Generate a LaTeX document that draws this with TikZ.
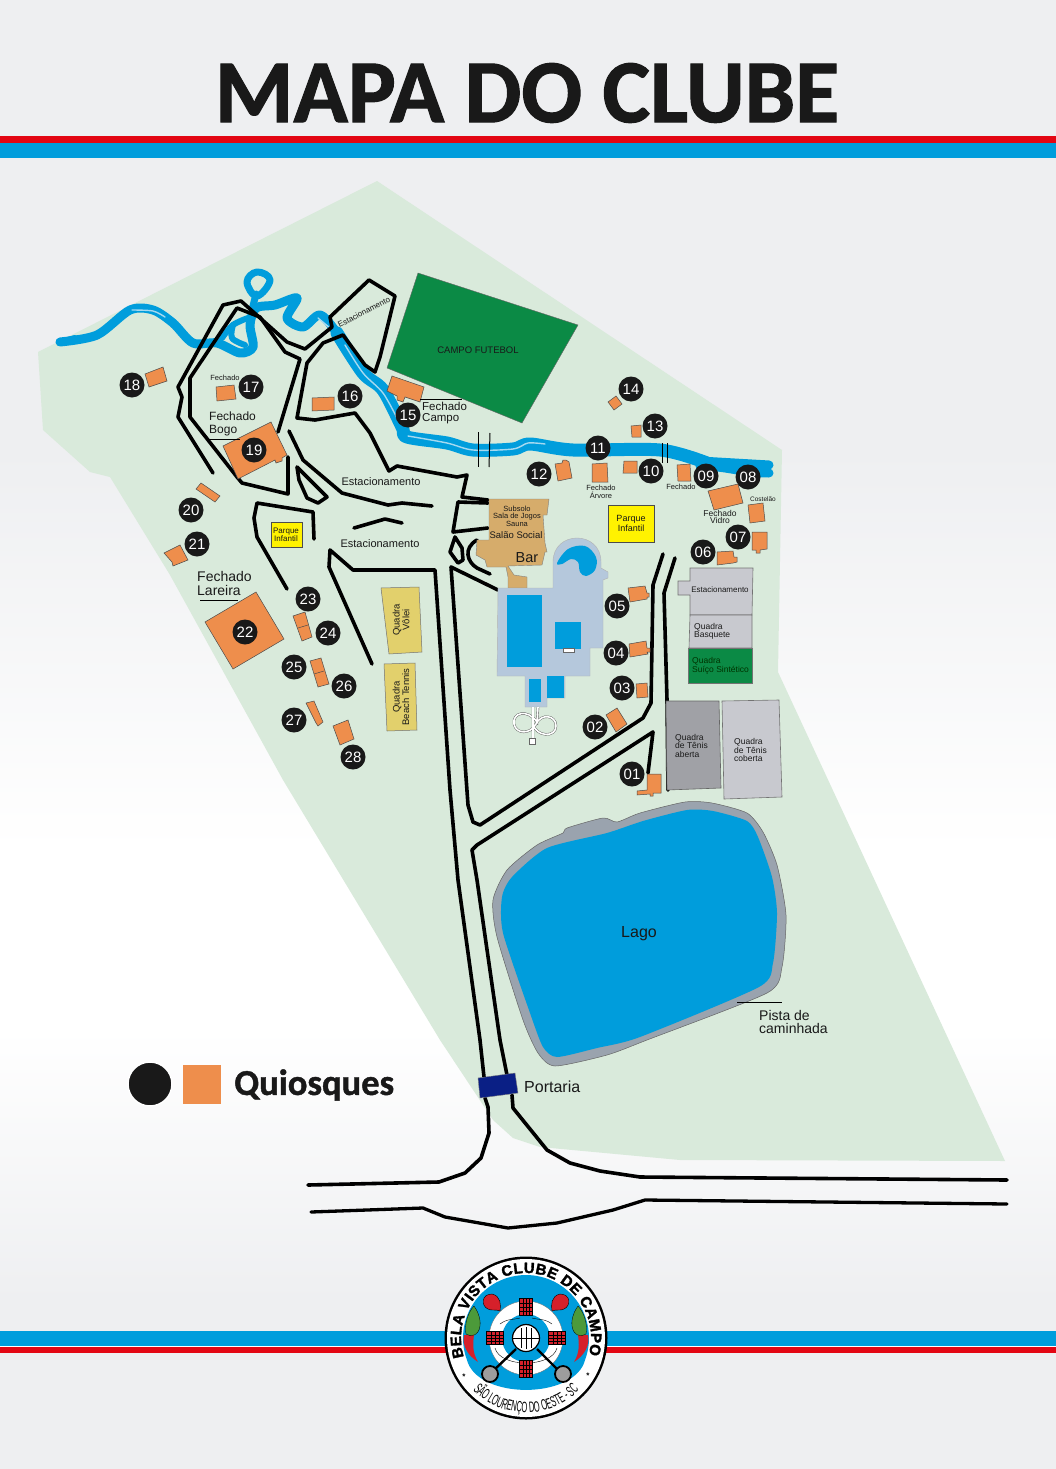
\documentclass[tikz,border=0pt]{standalone}
\usepackage{fontspec}
\usetikzlibrary{decorations.text}
\setmainfont{Liberation Sans}
\newfontfamily\titlefont[BoldFeatures={FakeBold=1.2}]{Carlito}
\newfontfamily\logofont[BoldFeatures={FakeBold=2}]{Liberation Sans}
\newfontfamily\narrowfont[FakeStretch=0.5]{Liberation Sans}
\newcommand\fs[1]{\fontsize{#1}{#1}\selectfont}
\definecolor{bggray}{HTML}{EEEFF1}
\definecolor{landgreen}{HTML}{D9EADB}
\definecolor{riverblue}{HTML}{009DDC}
\definecolor{riverlight}{HTML}{A5D9F0}
\definecolor{barred}{HTML}{E30613}
\definecolor{kiosk}{HTML}{EE8E4C}
\definecolor{fieldgreen}{HTML}{0B8A45}
\definecolor{tan}{HTML}{D6AC6B}
\definecolor{deck}{HTML}{B5C8DC}
\definecolor{courtyellow}{HTML}{E2D06C}
\definecolor{courtgray}{HTML}{C8C9CF}
\definecolor{darkcourt}{HTML}{A0A1A6}
\definecolor{lakerim}{HTML}{9AA3AE}
\definecolor{gatenavy}{HTML}{0A1F85}
\definecolor{logored}{HTML}{D5202A}
\definecolor{treegreen}{HTML}{4C9A3A}
\tikzset{
  road/.style={draw=black,line width=3.6pt,line join=round,line cap=round},
  river/.style={draw=riverblue,line width=9pt,line join=round,line cap=round},
  riverwide/.style={draw=riverblue,line width=13pt,line join=round,line cap=round},
  riverthin/.style={draw=riverlight,line width=1.4pt,line cap=round},
  bldg/.style={fill=kiosk,draw=black!70,line width=0.5pt},
  num/.style={circle,fill=black!90,text=white,minimum size=25pt,inner sep=0pt,font=\fs{15}},
  lbl/.style={inner sep=0pt,align=center,text=black!90},
  lblL/.style={inner sep=0pt,align=left,text=black!90,anchor=west},
  yel/.style={fill=yellow,draw=black!70,line width=0.7pt},
  court/.style={fill=courtgray,draw=black!55,line width=0.6pt},
  leader/.style={draw=black,line width=1pt},
  pool/.style={fill=riverblue},
}
\begin{document}
\begin{tikzpicture}[x=1pt,y=-1pt]
\useasboundingbox (0,0) rectangle (1056,1469);
% background
\fill[bggray] (0,0) rectangle (1056,450);
\shade[top color=bggray,bottom color=white] (0,450) rectangle (1056,850);
\fill[white] (0,850) rectangle (1056,1030);
\shade[top color=white,bottom color=bggray] (0,1030) rectangle (1056,1300);
\fill[bggray] (0,1300) rectangle (1056,1469);
% title
\node[inner sep=0pt,text=black!90] (title) at (527,93) {\titlefont\bfseries\fs{90}MAPA DO CLUBE};
\fill[barred] (0,136) rectangle (1056,142.5);
\fill[riverblue] (0,142.5) rectangle (1056,157.5);
\fill[riverblue] (0,1331) rectangle (1056,1346);
\fill[white] (0,1346) rectangle (1056,1347);
\fill[barred] (0,1347) rectangle (1056,1353);
% land
\fill[landgreen] (38,352) -- (377,181) -- (782,450) -- (778,672) -- (1005,1161) -- (680,1160) -- (540,1147) -- (513,1138) -- (493,1120) -- (440,1040) -- (283,780) -- (170,575) -- (110,477) -- (90,472) -- (43,430) -- cycle;
% river
\draw[river] plot[smooth,tension=0.5] coordinates {(60,342) (97,335) (130,310) (153,310) (173,323) (193,343) (217,343) (240,353) (253,347) (250,325) (256,308) (275,305) (297,298) (287,318) (303,327) (320,315) (337,333) (363,373)};
\draw[river,line width=6pt] (60,342) -- (75,338);
\draw[riverwide] plot[smooth,tension=0.5] coordinates {(337,333) (363,373) (383,390) (402,427) (407,437) (447,443) (473,450) (513,449) (530,444) (573,450) (660,450) (707,463)};
\draw[river] (700,461) -- (769,465);
\draw[river] (700,466) to[out=0,in=180] (769,473);
\draw[river,line width=7pt] plot[smooth cycle,tension=0.7] coordinates {(247,282) (257,272) (270,280) (257,296)};
\draw[river,line width=7pt] (256,294) -- (252,310);
\draw[river,line width=6pt] plot[smooth,tension=0.6] coordinates {(222,338) (233,325) (248,318)};
\draw[river,line width=6pt] plot[smooth,tension=0.6] coordinates {(233,325) (232,338) (245,345)};
\draw[riverthin] plot[smooth,tension=0.5] coordinates {(345,345) (363,373) (383,393) (398,420)};
\draw[riverthin] plot[smooth,tension=0.5] coordinates {(408,436) (447,443) (473,450) (513,449) (528,443) (545,444)};
\draw[riverthin] plot[smooth,tension=0.5] coordinates {(132,310) (153,311) (165,317)};
\draw[riverthin] (318,318) -- (330,328);
% bridges
\draw[leader] (478,432) -- (478,467);
\draw[leader] (490,433) -- (489,467);
\draw[leader] (662,443) -- (662,463);
\draw[leader] (667,443) -- (667,463);
% roads
\draw[road] (213,473) -- (178,417) -- (182,397) -- (178,387) -- (223,305) -- (241,301) -- (287,342) -- (305,349) -- (332,327) -- (330,317) -- (369,280) -- (395,296) -- (380,357) -- (375,372) -- (365,365) -- (343,335) -- (323,343) -- (307,363) -- (297,418) -- (315,420) -- (355,413) -- (370,433) -- (389,471) -- (397,466) -- (457,477) -- (467,475) -- (462,497) -- (488,500);
\draw[road] (278,432) -- (300,359) -- (285,352) -- (260,317) -- (237,308) -- (190,378) -- (190,417) -- (237,477) -- (242,483) -- (288,494) -- (288,457);
\draw[road] (289,431) -- (303,460) -- (342,493) -- (388,505) -- (402,503) -- (432,506);
\draw[road] (297,467) -- (327,497) -- (318,503) -- (307,498) -- (299,480) -- cycle;
\draw[road] (354,528) -- (385,519) -- (402,523);
\draw[road] (314,539) -- (313,512) -- (257,503) -- (254,518) -- (257,537) -- (287,589);
\draw[road] (372,664) -- (329,567) -- (330,550) -- (353,570) -- (435,570) -- (450,790) -- (458,880) -- (480,1040) -- (484,1077);
\draw[road] (485,1098) -- (488,1107) -- (489,1133) -- (481,1158) -- (465,1173) -- (439,1182) -- (308,1185);
\draw[road] (498,590) -- (451,567) -- (468,805) -- (473,822) -- (480,825) -- (643,718) -- (651,703) -- (653,585) -- (663,554);
\draw[road] (648,773) -- (653,732) -- (477,845) -- (472,850) -- (477,880) -- (500,1040) -- (507,1075);
\draw[road] (675,558) -- (664,593) -- (667,700) -- (668,790);
\draw[road] (512,1095) -- (513,1108) -- (547,1150) -- (570,1163) -- (600,1171) -- (640,1177) -- (1007,1180);
\draw[road,line width=3.3pt] (311,1212) -- (423,1208) -- (445,1217) -- (508,1228) -- (557,1223) -- (613,1210) -- (645,1200) -- (1007,1204);
\draw[road] (488,528) -- (453,532) -- (458,502) -- (488,503);
\draw[road] (455,537) -- (450,552) -- (458,563) -- (463,560) -- (462,548) -- cycle;
\draw[road] (490,574) -- (477,568) .. controls (467,562) and (463,548) .. (477,540);
% football field
\fill[fieldgreen,draw=black!60,line width=0.4pt] (418,273) -- (578,325) -- (522,423) -- (387,368) -- cycle;
\node[lbl,font=\fs{9.5}] (campofut) at (478,350) {CAMPO FUTEBOL};
\node[lbl,font=\fs{8},rotate=27] (est1) at (364,312) {Estacionamento};
% lake
\fill[lakerim,draw=black!60,line width=0.5pt] plot[smooth cycle,tension=0.4] coordinates {(493,900) (507,870) (537,845) (563,833) (567,828) (603,818) (617,822) (640,813) (685,802) (712,803) (747,813) (763,832) (777,865) (786,915) (782,967) (767,993) (647,1040) (607,1055) (555,1066) (538,1053) (523,1020) (497,937)};
\fill[riverblue] plot[smooth cycle,tension=0.4] coordinates {(502,897) (512,877) (547,848) (607,833) (643,821) (687,810) (713,811) (747,821) (758,837) (772,877) (777,913) (773,963) (759,987) (640,1037) (597,1048) (557,1057) (543,1047) (530,1013) (503,933)};
\node[lbl,font=\fs{16}] (lago) at (639,934) {Lago};
\draw[leader] (737,1002) -- (782,1002);
\node[lblL,font=\fontsize{14}{12.5}\selectfont] (pista) at (759,1022) {Pista de\\caminhada};
% gate
\fill[gatenavy,draw=black!50,line width=0.4pt] (478,1078) -- (515,1073) -- (518,1093) -- (480,1098) -- cycle;
\node[lblL,font=\fs{16}] (portaria) at (524,1087) {Portaria};
% club house
\fill[tan,draw=black!50,line width=0.4pt] (489,499) -- (549,499) -- (547,515) -- (543,515) -- (545,543) -- (547,552) -- (545,552) -- (542,565) -- (508,566) -- (514,575) -- (527,577) -- (527,588) -- (508,588) -- (508,577) -- (506,567) -- (487,567) -- (485,560) -- (476,555) -- (477,540) -- (489,540) -- cycle;
\node[lbl,font=\fontsize{7.5}{6.7}\selectfont] (subsolo) at (517,516.5) {Subsolo\\Sala de Jogos\\Sauna};
\node[lbl,font=\fs{9.5}] (salao) at (516,535) {Salão Social};
\node[lbl,font=\fs{14.5}] (bar) at (527,558) {Bar};
% pool deck
\fill[deck,draw=black!30,line width=0.4pt] (498,588) -- (553,588) -- (553,562) .. controls (553,530) and (601,530) .. (601,562) -- (601,568) -- (608,572) -- (608,578) -- (603,580) -- (603,648) -- (590,648) -- (590,676) -- (565,676) -- (565,698) -- (547,698) -- (547,707) -- (525,707) -- (525,676) -- (497,676) -- cycle;
\fill[pool] (507,595) rectangle (542,667);
\fill[pool] (555,622) rectangle (581,649);
\fill[pool] (529,679) rectangle (541,702);
\fill[pool] (547,676) rectangle (564,698);
\fill[pool] plot[smooth cycle,tension=0.6] coordinates {(557,563) (568,549) (585,546) (596,557) (595,570) (586,576) (580,572) (578,562) (571,559) (562,564)};
\fill[white,draw=black!60,line width=0.3pt] (563,648) rectangle (574,652);
\draw[draw=black!65,double=white,double distance=1.6pt,line width=0.4pt] (533,707) -- (533,739) (538,707) -- (537,722) .. controls (527,708) and (512,713) .. (514,724) .. controls (516,734) and (530,735) .. (536,724) .. controls (541,713) and (556,715) .. (556,726) .. controls (556,738) and (536,737) .. (533,724);
\draw[fill=white,draw=black!60,line width=0.4pt] (529,738) rectangle (535,744);
% yellow infantil
\fill[yel] (608,505) rectangle (654,542);
\node[lbl,font=\fontsize{9}{8}\selectfont] (pi1) at (631,523.5) {Parque\\Infantil};
\fill[yel] (271,522) rectangle (302,547);
\node[lbl,font=\fontsize{8}{7.3}\selectfont] (pi2) at (286,535) {Parque\\Infantil};
% courts
\fill[courtyellow,draw=black!55,line width=0.5pt] (381,588) -- (419,587) -- (422,652) -- (389,654) -- cycle;
\node[lbl,font=\fontsize{9.5}{8.5}\selectfont,rotate=90] (volei) at (401,620) {Quadra\\Vôlei};
\fill[courtyellow,draw=black!55,line width=0.5pt] (384,664) -- (415,663) -- (417,730) -- (387,731) -- cycle;
\node[lbl,font=\fontsize{9.5}{8.5}\selectfont,rotate=90] (beach) at (401,697) {Quadra\\Beach Tennis};
\fill[court] (690,568) -- (753,568) -- (752,615) -- (690,615) -- (690,595) -- (678,595) -- (678,581) -- (690,581) -- cycle;
\node[lbl,font=\fs{8}] (est2) at (720,590) {Estacionamento};
\fill[court] (690,615) -- (752,615) -- (752,648) -- (689,648) -- cycle;
\node[lblL,font=\fontsize{8.5}{8}\selectfont] (basq) at (694,631) {Quadra\\Basquete};
\fill[fieldgreen,draw=black!55,line width=0.5pt] (688,648) -- (752,648) -- (752,683) -- (688,683) -- cycle;
\node[lblL,font=\fontsize{8.5}{8.5}\selectfont,text=black!80!green] (suico) at (692,666) {Quadra\\Suíço Sintético};
\fill[darkcourt,draw=black!60,line width=0.6pt] (666,701) -- (719,701) -- (721,788) -- (667,790) -- cycle;
\node[lblL,font=\fontsize{8.5}{8.5}\selectfont] (ten1) at (675,745.5) {Quadra\\de Tênis\\aberta};
\fill[court] (722,701) -- (779,700) -- (782,797) -- (724,799) -- cycle;
\node[lblL,font=\fontsize{8.5}{8.5}\selectfont] (ten2) at (734,750) {Quadra\\de Tênis\\coberta};
% kiosks
\draw[bldg] (145,374) -- (163,367) -- (167,381) -- (149,387) -- cycle;
\draw[bldg] (216,387) -- (234,385) -- (236,399) -- (217,401) -- cycle;
\draw[bldg] (312,398) -- (334,397) -- (334,410) -- (312,411) -- cycle;
\draw[bldg] (392,376) -- (424,387) -- (420,402) -- (405,397) -- (403,402) -- (397,400) -- (397,396) -- (387,391) -- cycle;
\draw[bldg] (223,446) -- (271,422) -- (287,455) -- (282,458) -- (282,461) -- (276,463) -- (275,460) -- (238,479) -- cycle;
\draw[bldg] (201,483) -- (220,496) -- (215,502) -- (196,489) -- cycle;
\draw[bldg] (164,553) -- (180,545) -- (188,560) -- (173,566) -- (172,562) -- cycle;
\draw[bldg] (205,622) -- (256,592) -- (284,639) -- (233,669) -- cycle;
\draw[bldg] (293,616) -- (305,612) -- (312,637) -- (302,641) -- cycle;
\draw[bldg] (298,628) -- (308,625);
\draw[bldg] (310,661) -- (321,658) -- (329,684) -- (318,687) -- cycle;
\draw[bldg] (314,674) -- (324,671);
\draw[bldg] (306,703) -- (314,701) -- (323,722) -- (318,726) -- (316,723) -- cycle;
\draw[bldg] (333,726) -- (348,720) -- (354,739) -- (340,745) -- cycle;
\draw[bldg] (628,588) -- (645,586) -- (647,593) -- (649,593) -- (649,597) -- (647,597) -- (647,599) -- (630,602) -- cycle;
\draw[bldg] (629,644) -- (646,641) -- (647,648) -- (650,648) -- (650,652) -- (647,652) -- (648,654) -- (630,657) -- cycle;
\draw[bldg] (636,684) -- (647,683) -- (648,697) -- (637,698) -- cycle;
\draw[bldg] (606,715) -- (617,708) -- (627,724) -- (616,732) -- cycle;
\draw[bldg] (647,774) -- (661,774) -- (661,793) -- (653,793) -- (653,796) -- (650,796) -- (650,794) -- (637,795) -- (637,791) -- (647,790) -- cycle;
\draw[bldg] (717,552) -- (733,551) -- (734,557) -- (737,557) -- (737,562) -- (733,563) -- (717,565) -- cycle;
\draw[bldg] (752,532) -- (767,532) -- (767,549) -- (760,550) -- (760,553) -- (756,553) -- (756,550) -- (752,550) -- cycle;
\draw[bldg] (748,505) -- (763,503) -- (765,521) -- (750,523) -- cycle;
\draw[bldg] (708,491) -- (738,484) -- (743,503) -- (714,510) -- cycle;
\draw[bldg] (677,465) -- (690,464) -- (691,481) -- (678,481) -- cycle;
\draw[bldg] (624,461) -- (637,461) -- (637,473) -- (623,473) -- cycle;
\draw[bldg] (592,464) -- (607,463) -- (608,482) -- (592,482) -- cycle;
\draw[bldg] (555,464) -- (562,463) -- (563,460) -- (566,460) -- (569,462) -- (572,478) -- (558,481) -- cycle;
\draw[bldg] (631,426) -- (641,425) -- (641,437) -- (632,437) -- cycle;
\draw[bldg] (608,402) -- (616,396) -- (622,404) -- (614,410) -- cycle;
% numbers
\node[num] (n01) at (632,774) {01};
\node[num] (n02) at (595,727) {02};
\node[num] (n03) at (622,688) {03};
\node[num] (n04) at (616,653) {04};
\node[num] (n05) at (617,606) {05};
\node[num] (n06) at (703,552) {06};
\node[num] (n07) at (738,537) {07};
\node[num] (n08) at (748,477) {08};
\node[num] (n09) at (706,476) {09};
\node[num] (n10) at (651,471) {10};
\node[num] (n11) at (598,448) {11};
\node[num] (n12) at (539,474) {12};
\node[num] (n13) at (655,426) {13};
\node[num] (n14) at (631,389) {14};
\node[num] (n15) at (408,415) {15};
\node[num] (n16) at (350,396) {16};
\node[num] (n17) at (251,387) {17};
\node[num] (n18) at (132,385) {18};
\node[num] (n19) at (254,450) {19};
\node[num] (n20) at (191,510) {20};
\node[num] (n21) at (197,544) {21};
\node[num] (n22) at (245,632) {22};
\node[num] (n23) at (308,599) {23};
\node[num] (n24) at (328,633) {24};
\node[num] (n25) at (294,667) {25};
\node[num] (n26) at (344,686) {26};
\node[num] (n27) at (294,720) {27};
\node[num] (n28) at (353,757) {28};
% labels
\node[lbl,font=\fs{7.5}] (f17) at (225,378) {Fechado};
\node[lblL,font=\fontsize{11.5}{11}\selectfont] (fcampo) at (422,413) {Fechado\\Campo};
\draw[leader] (420,399) -- (462,399);
\node[lblL,font=\fontsize{12}{13}\selectfont] (fbogo) at (209,424) {Fechado\\Bogo};
\draw[leader] (208,439) -- (240,439);
\node[lblL,font=\fontsize{14}{14}\selectfont] (flar) at (197,583) {Fechado\\Lareira};
\draw[leader] (200,600) -- (238,600);
\node[lbl,font=\fs{11}] (e1) at (381,482) {Estacionamento};
\node[lbl,font=\fs{11}] (e2) at (380,544) {Estacionamento};
\node[lbl,font=\fontsize{7.5}{6.5}\selectfont] (farv) at (601,492) {Fechado\\Árvore};
\node[lbl,font=\fs{7.5}] (f09) at (681,487) {Fechado};
\node[lbl,font=\fontsize{8.5}{7}\selectfont] (fvid) at (720,517) {Fechado\\Vidro};
\node[lbl,font=\fs{6.5}] (cost) at (763,499) {Costelão};
% legend
\node[circle,fill=black!90,draw=white,line width=1.5pt,minimum size=44pt,inner sep=0pt] (legc) at (150,1084) {};
\fill[kiosk] (183,1065) rectangle (221,1104);
\node[lblL,font=\titlefont\bfseries\fs{36.5}] (quio) at (234,1085) {Quiosques};
% logo
\begin{scope}
\fill[black] (526,1338) circle[radius=81.5];
\fill[white] (526,1338) circle[radius=79];
\fill[riverblue] plot[domain=200:-20,samples=60] ({526+63*cos(\x)},{1338-63*sin(\x)}) .. controls (575,1400) and (477,1400) .. cycle;
\path[decorate,decoration={text along path,text align=fit to path,text={|\logofont\bfseries\fs{15}|BELA VISTA CLUBE DE CAMPO}}] plot[domain=197:-15,samples=70] ({526+65*cos(\x)},{1338-65*sin(\x)});
\path[decorate,decoration={text along path,text align=center,text={|\narrowfont\fs{15}|SÃO LOURENÇO DO OESTE - SC}}] plot[domain=200:340,samples=70] ({526+74.5*cos(\x)},{1338-74.5*sin(\x)});
\node[inner sep=0pt,font=\bfseries\fs{8}] (s1) at (464,1377) {*};
\node[inner sep=0pt,font=\bfseries\fs{8}] (s2) at (588,1376) {*};
% lifebuoy
\fill[white] (526,1338) circle[radius=37];
\draw[black!60,line width=0.3pt] (526,1338) circle[radius=37];
\fill[riverblue] (526,1338) circle[radius=24];
\draw[black,line width=0.4pt] (495,1348) .. controls (500,1368) and (552,1368) .. (557,1348);
\foreach \px/\py/\rw/\rh in {526/1307/6.5/8.5,526/1369/6.5/8.5,495/1338/8.5/6.5,557/1338/8.5/6.5}{
  \fill[logored,draw=black,line width=0.3pt] (\px-\rw,\py-\rh) rectangle (\px+\rw,\py+\rh);
  \draw[black,line width=0.25pt] (\px-\rw,\py) -- (\px+\rw,\py) (\px-\rw,\py-\rh/2) -- (\px+\rw,\py-\rh/2) (\px-\rw,\py+\rh/2) -- (\px+\rw,\py+\rh/2) (\px,\py-\rh) -- (\px,\py+\rh) (\px-\rw/2,\py-\rh) -- (\px-\rw/2,\py+\rh) (\px+\rw/2,\py-\rh) -- (\px+\rw/2,\py+\rh);
}
\draw[black,line width=0.4pt] (500,1324) .. controls (508,1318) and (514,1320) .. (520,1318);
\draw[black,line width=0.4pt] (552,1324) .. controls (544,1318) and (538,1320) .. (532,1318);
\fill[white,draw=black,line width=1.2pt] (526,1338) circle[radius=13.5];
\draw[black,line width=0.7pt] (513,1338) -- (539,1338) (521,1328) -- (521,1348) (526,1327) -- (526,1349) (531,1328) -- (531,1348);
% rackets
\draw[black,line width=2.4pt] (516,1349) -- (494,1370);
\draw[black,line width=2.4pt] (537,1349) -- (558,1370);
\fill[black!10!gray!70!white,draw=black,line width=1.8pt] (490,1374) circle[radius=8];
\fill[black!10!gray!70!white,draw=black,line width=1.8pt] (563,1374) circle[radius=8];
% paddles
\fill[logored,draw=black,line width=0.4pt] (492,1294) .. controls (481,1294) and (481,1306) .. (488,1309) .. controls (491,1311) and (496,1309) .. (500,1311) .. controls (501,1305) and (501,1296) .. (492,1294) -- cycle;
\fill[logored,draw=black,line width=0.4pt] (560,1294) .. controls (571,1294) and (571,1306) .. (564,1309) .. controls (561,1311) and (556,1309) .. (552,1311) .. controls (551,1305) and (551,1296) .. (560,1294) -- cycle;
% trees
\fill[logored] (464,1335) .. controls (462,1345) and (467,1355) .. (478,1362) .. controls (472,1352) and (473,1343) .. (474,1335) -- cycle;
\fill[logored] (588,1335) .. controls (590,1345) and (585,1355) .. (574,1362) .. controls (580,1352) and (579,1343) .. (578,1335) -- cycle;
\fill[treegreen,draw=black,line width=0.3pt] (474,1306) .. controls (468,1312) and (464,1325) .. (466,1334) .. controls (471,1338) and (479,1335) .. (480,1326) .. controls (481,1318) and (477,1310) .. (474,1306) -- cycle;
\fill[treegreen,draw=black,line width=0.3pt] (578,1306) .. controls (584,1312) and (588,1325) .. (586,1334) .. controls (581,1338) and (573,1335) .. (572,1326) .. controls (571,1318) and (575,1310) .. (578,1306) -- cycle;
\end{scope}
\end{tikzpicture}
\end{document}
